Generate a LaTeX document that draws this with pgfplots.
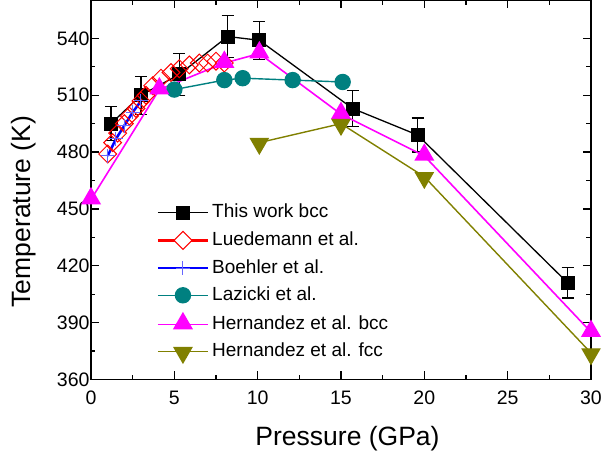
\documentclass[border=0pt]{standalone}
\usepackage{pgfplots}
\pgfplotsset{compat=1.18}
\usepackage{fontspec}
\setmainfont{Liberation Sans}
\definecolor{tealc}{RGB}{0,128,128}
\definecolor{olivec}{RGB}{128,128,0}
\definecolor{magc}{RGB}{255,0,255}
\definecolor{redc}{RGB}{255,0,0}
\definecolor{bluec}{RGB}{0,0,255}
\begin{document}
\begin{tikzpicture}
\begin{axis}[
 scale only axis, width=500pt, height=379pt,
 at={(0,0)}, anchor=south west,
 xmin=0, xmax=30, ymin=360, ymax=560,
 xtick={0,5,...,30}, ytick={360,390,...,540},
 minor x tick num=1, minor y tick num=1,
 tick align=inside, major tick length=8pt, minor tick length=4.5pt,
 axis line style={line width=1.3pt},
 every tick/.style={black, line width=1.2pt},
 /pgf/number format/assume math mode=true,
 tick label style={font=\fontsize{19.5}{23}\selectfont},
 xticklabel style={yshift=-8pt},
 yticklabel style={xshift=2pt},
 xlabel={Pressure (GPa)}, ylabel={Temperature (K)},
 label style={font=\fontsize{26.5}{30}\selectfont},
 xlabel style={at={(axis description cs:0.513,-0.1565)}, anchor=center},
 ylabel style={at={(axis description cs:-0.1348,0.443)}, anchor=center},
 legend style={at={(axis description cs:0.131,0.4644)}, anchor=north west, draw=none, fill=none,
   font=\fontsize{19}{22}\selectfont, row sep=9.2pt, inner sep=0pt,
   nodes={inner ysep=0pt, inner xsep=3pt, text height=14pt, text depth=4pt}},
 legend cell align=left,
 legend image code/.code={\draw[mark repeat=2,mark phase=2] plot coordinates {(0pt,0pt) (25pt,0pt) (50pt,0pt)};},
]
\addplot[black, line width=1.3pt, mark=square*, mark size=6.5pt, mark options={line width=1pt},
  error bars/.cd, y dir=both, y explicit,
  error bar style={line width=1.2pt, black},
  error mark options={rotate=90, line width=1.2pt, mark size=6pt, black}]
 coordinates {
 (1.2,495) +- (0,9)
 (3.0,510) +- (0,10)
 (5.3,521) +- (0,11)
 (8.2,541) +- (0,11)
 (10.1,539) +- (0,10)
 (15.7,503) +- (0,9.5)
 (19.6,489) +- (0,9)
 (28.6,411) +- (0,8)
 };
\addlegendentry{This work bcc}
\addplot[redc, only marks, mark=square, mark size=6.3pt, mark options={rotate=45, line width=1pt},
  legend image code/.code={\draw[line width=2.5pt] (0pt,0pt)--(50pt,0pt);
    \filldraw[fill=white, line width=1pt] (25pt,9pt)--(34pt,0pt)--(25pt,-9pt)--(16pt,0pt)--cycle;}]
 coordinates {
 (1.0,479) (1.3,485) (1.6,490) (2.0,495) (2.3,499) (2.7,503) (3.0,507) (3.3,510) (3.7,515)
 (4.2,519) (4.8,522) (5.3,524) (5.9,526) (6.5,527) (7.0,527) (7.5,528) (8.0,527)
 };
\addlegendentry{Luedemann et al.}
\addplot[bluec, line width=2.5pt, mark=+, mark size=7pt, mark options={line width=1pt, color=bluec!60}]
 coordinates {
 (1.0,478) (1.5,487) (2.0,494) (2.5,501) (3.0,507)
 };
\addlegendentry{Boehler et al.}
\addplot[tealc, line width=1.4pt, mark=*, mark size=7.5pt]
 coordinates {
 (5.0,513) (8.0,518) (9.1,519) (12.1,518) (15.1,517)
 };
\addlegendentry{Lazicki et al.}
\addplot[magc, line width=1.6pt, mark=triangle*, mark size=10pt, mark options={yshift=1pt}]
 coordinates {
 (0,455) (4.1,513) (8.0,527) (10.1,532) (15.0,500) (20.0,478) (30.0,385)
 };
\addlegendentry{Hernandez et al. bcc}
\addplot[olivec, line width=1.4pt, mark=triangle*, mark size=10pt, mark options={rotate=180, yshift=1pt}]
 coordinates {
 (10.1,485) (15.0,495) (20.0,467) (30.0,374)
 };
\addlegendentry{Hernandez et al. fcc}
\end{axis}
\pgfresetboundingbox
\path[use as bounding box] (-91pt,-72.5pt) rectangle (512pt,379.5pt);
\end{tikzpicture}
\end{document}
